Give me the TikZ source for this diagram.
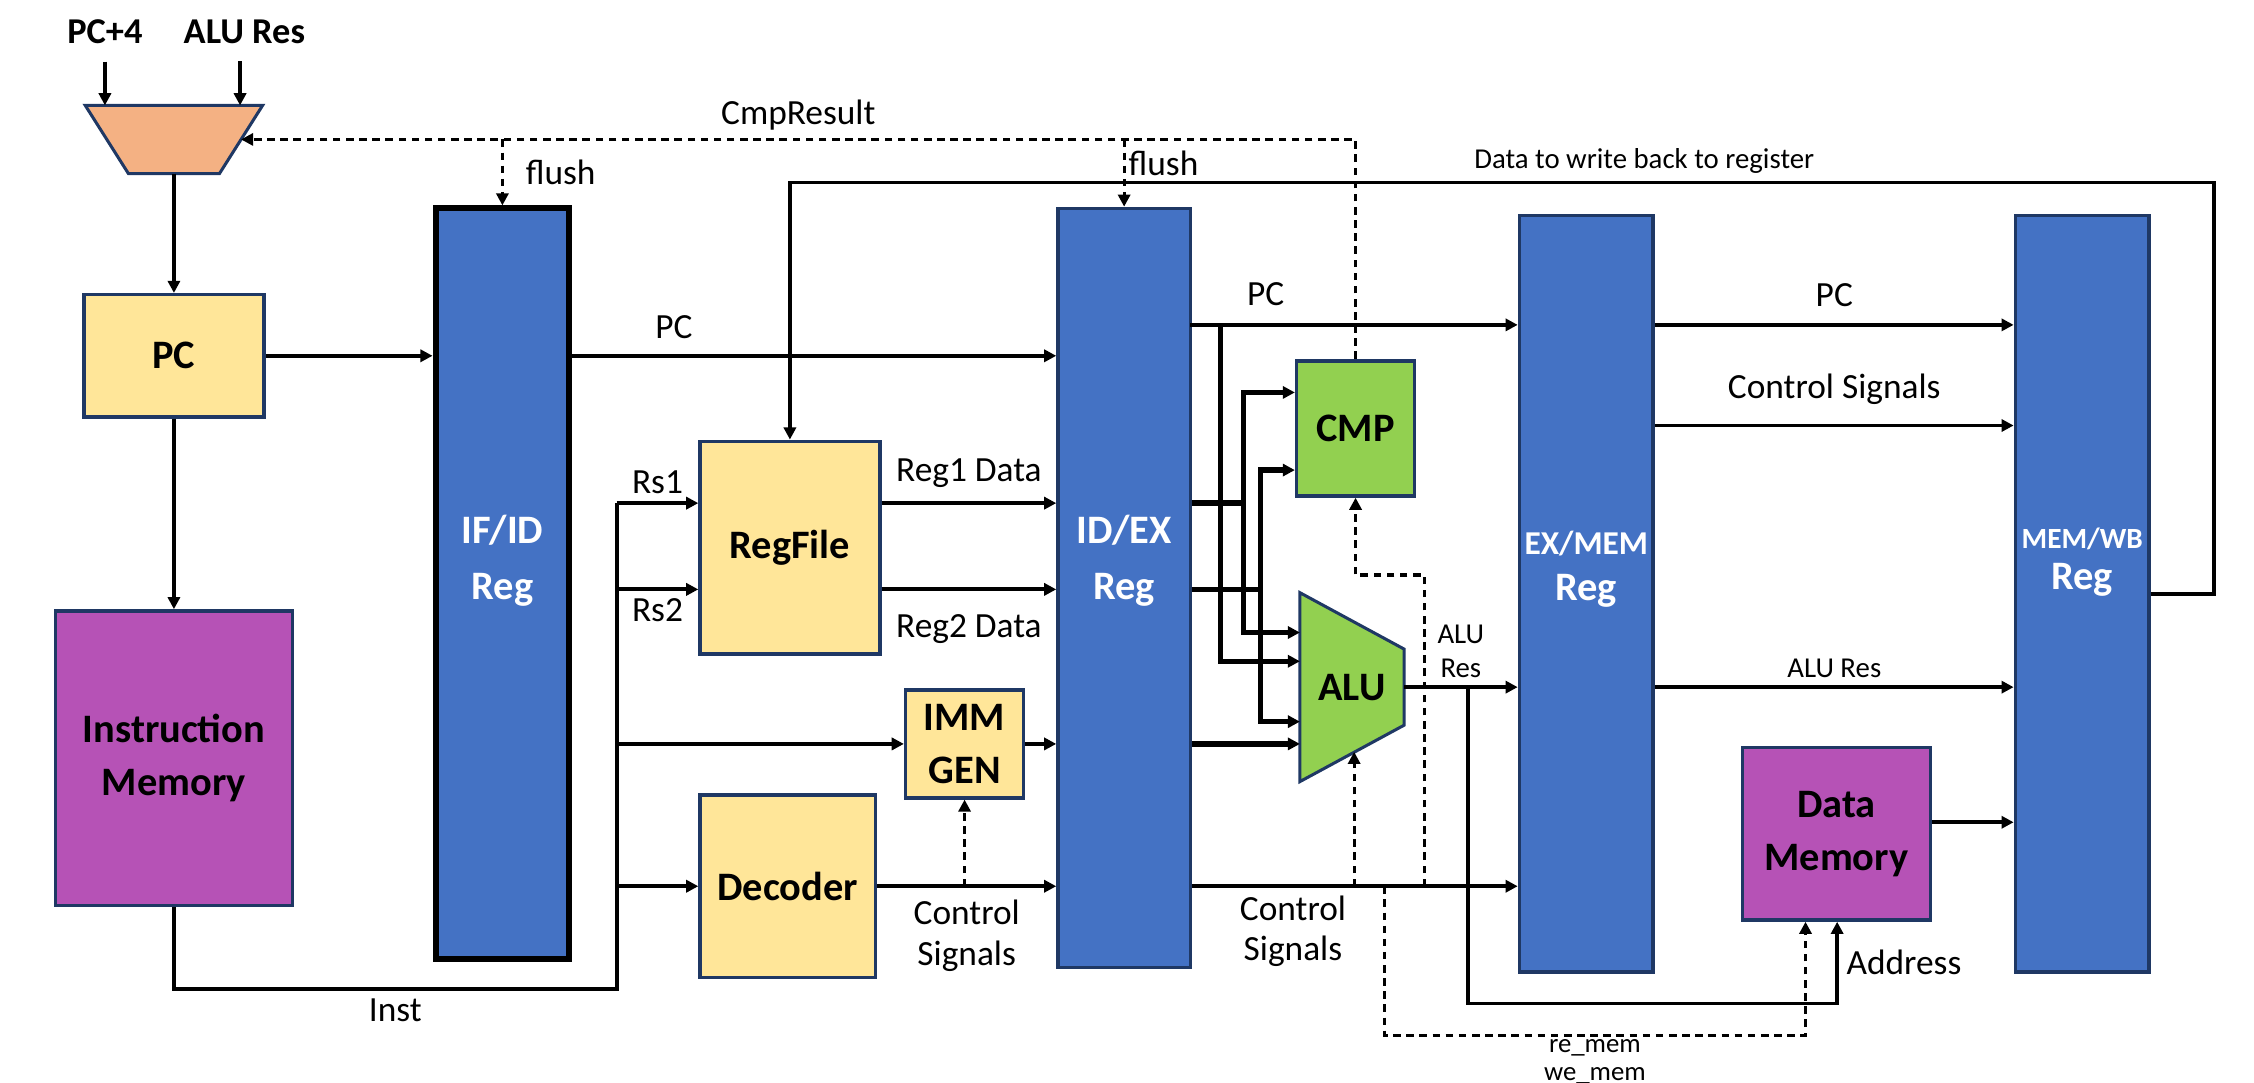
\documentclass[tikz,border=0pt]{standalone}
\usepackage{fontspec}
\setmainfont{Carlito}
\usepackage{xcolor}
\usepackage{tikz}
\usetikzlibrary{arrows.meta, calc, backgrounds}

\definecolor{regblue}{HTML}{4472C4}
\definecolor{edgenavy}{HTML}{1F3864}
\definecolor{unityellow}{HTML}{FFE699}
\definecolor{mempurple}{HTML}{B652B6}
\definecolor{cmpgreen}{HTML}{92D050}
\definecolor{muxorange}{HTML}{F4B183}

\begin{document}
\begin{tikzpicture}[>={Triangle[length=2.4pt, width=2.4pt]},
    wire/.style={line width=0.75pt},
    bus/.style={line width=1.05pt},
    ctrl/.style={line width=0.6pt, dash pattern=on 1.5pt off 1.1pt},
    blockbox/.style={draw=edgenavy, line width=0.7pt, fill=unityellow, inner sep=0pt, align=center, font=\fontsize{8}{10.5}\selectfont\bfseries},
    pipereg/.style={draw=edgenavy, line width=0.7pt, fill=regblue, minimum width=0.93cm, minimum height=5.26cm},
    regtext/.style={text=white, align=center, font=\fontsize{8}{11}\selectfont\bfseries},
    lbl/.style={font=\fontsize{7}{8}\selectfont, inner sep=1.5pt},
    smalllbl/.style={font=\fontsize{5.7}{6.8}\selectfont, inner sep=1.5pt}]
    \useasboundingbox (0,0) rectangle (15.68,-7.53);

    % blocks
    \node[blockbox, minimum width=1.25cm, minimum height=0.85cm] (pc) at (1.21,-2.475) {PC};
    \node[blockbox, fill=mempurple, minimum width=1.65cm, minimum height=2.05cm] (imem) at (1.21,-5.275) {Instruction\\Memory};
    \node[blockbox, minimum width=1.25cm, minimum height=1.48cm] (regfile) at (5.495,-3.81) {RegFile};
    \node[blockbox, minimum width=0.82cm, minimum height=0.75cm] (immgen) at (6.71,-5.175) {IMM\\GEN};
    \node[blockbox, minimum width=1.22cm, minimum height=1.27cm] (decoder) at (5.48,-6.165) {Decoder};
    \node[blockbox, fill=cmpgreen, minimum width=0.82cm, minimum height=0.94cm] (cmp) at (9.43,-2.98) {CMP};
    \node[blockbox, fill=mempurple, minimum width=1.31cm, minimum height=1.20cm] (dmem) at (12.775,-5.80) {Data\\Memory};
    \node[minimum width=1.22cm, minimum height=0.46cm, inner sep=0pt] (mux) at (1.21,-0.97) {};
    \node[minimum width=0.71cm, minimum height=1.30cm, inner sep=0pt, font=\fontsize{8}{10}\selectfont\bfseries] (alu) at (9.405,-4.78) {ALU};
    \begin{scope}[on background layer]
        \filldraw[fill=muxorange, draw=edgenavy, line width=0.6pt] (mux.north west) -- (mux.north east) -- ($(mux.south east)+(-0.30,0)$) -- ($(mux.south west)+(0.30,0)$) -- cycle;
        \filldraw[fill=cmpgreen, draw=edgenavy, line width=0.6pt] (alu.north west) -- ($(alu.east)+(0,0.265)$) -- ($(alu.east)+(0,-0.265)$) -- (alu.south west) -- cycle;
    \end{scope}

    % pipeline registers
    \node[pipereg, draw=black, line width=1.2pt, minimum height=5.22cm] (ifid) at (3.495,-4.06) {};
    \node[pipereg, minimum width=0.92cm, minimum height=5.28cm] (idex) at (7.82,-4.09) {};
    \node[pipereg] (exmem) at (11.035,-4.13) {};
    \node[pipereg] (memwb) at (14.485,-4.13) {};
    \node[regtext] (ifidtxt) at ([yshift=1.6mm]ifid.center) {IF/ID\\Reg};
    \node[regtext] (idextxt) at ([yshift=1.9mm]idex.center) {ID/EX\\Reg};
    \node[regtext, font=\fontsize{8}{9.2}\selectfont\bfseries] (exmemtxt) at ([yshift=1.7mm]exmem.center) {{\fontsize{6.6}{8}\selectfont EX/MEM}\\Reg};
    \node[regtext, font=\fontsize{8}{8}\selectfont\bfseries] (memwbtxt) at ([yshift=2.2mm]memwb.center) {{\fontsize{5.8}{7}\selectfont MEM/WB}\\Reg};

    % inputs of the next-pc mux
    \node[font=\fontsize{7.2}{8}\selectfont\bfseries] (pcfour) at (0.73,-0.22) {PC+4};
    \node[font=\fontsize{7.2}{8}\selectfont\bfseries] (alures) at (1.70,-0.22) {ALU Res};
    \draw[wire,->] (pcfour.south) -- (pcfour.south |- mux.north);
    \draw[wire,->] ([xshift=-0.3mm]alures.south) -- ([xshift=-0.3mm]alures.south |- mux.north);

    % fetch
    \draw[wire,->] (mux.south) -- (pc.north);
    \draw[wire,->] (pc.south) -- (imem.north);
    \draw[wire,->] (pc.east) -- (pc.east -| ifid.west);
    \draw[wire,->] (pc.east -| ifid.east) -- (pc.east -| idex.west) node[lbl, above, pos=0.21, yshift=0.5mm] {PC};

    % instruction bus
    \coordinate (instbot) at (4.29,-6.88);
    \coordinate (rs1pt) at (4.29,-3.50);
    \coordinate (rs2pt) at (4.29,-4.10);
    \coordinate (immpt) at (4.29,-5.175);
    \coordinate (decpt) at (4.29,-6.165);
    \draw[wire] (imem.south) |- (instbot) node[lbl, below, pos=0.75] {Inst} -- (rs1pt);
    \draw[wire,->] (rs1pt) -- (rs1pt -| regfile.west) node[lbl, above, midway] {Rs1};
    \draw[wire,->] (rs2pt) -- (rs2pt -| regfile.west) node[lbl, below, midway] {Rs2};
    \draw[wire,->] (immpt) -- (immgen.west);
    \draw[wire,->] (decpt) -- (decoder.west);

    % decode
    \draw[wire,->] (rs1pt -| regfile.east) -- (rs1pt -| idex.west) node[lbl, above, midway, yshift=0.4mm] {Reg1 Data};
    \draw[wire,->] (rs2pt -| regfile.east) -- (rs2pt -| idex.west) node[lbl, below, midway, yshift=-1.1mm] {Reg2 Data};
    \draw[wire,->] (immgen.east) -- (immgen.east -| idex.west);
    \draw[wire,->] (decoder.east) -- (decoder.east -| idex.west) node[lbl, below, midway, align=center, yshift=-0.3mm] {Control\\Signals};
    \draw[ctrl,->] (immgen.south |- decoder.east) -- (immgen.south);

    % execute
    \coordinate (pcout) at (8.28,-2.26);
    \coordinate (pcsplit) at (8.49,-2.26);
    \coordinate (r1a) at (8.65,-2.73);
    \coordinate (r1b) at (8.65,-4.40);
    \coordinate (r2a) at (8.77,-3.27);
    \coordinate (r2b) at (8.77,-5.02);
    \draw[wire,->] (pcout) -- (pcout -| exmem.west) node[lbl, above, pos=0.23, yshift=0.7mm] {PC};
    \draw[bus,->] (pcsplit) |- ([yshift=1.8mm]alu.west);
    \draw[bus] (rs1pt -| idex.east) -- (rs1pt -| r1a);
    \draw[bus] (rs2pt -| idex.east) -- (rs2pt -| r2a);
    \draw[bus,<->] (r1a -| cmp.west) -- (r1a) -- (r1b) -- (r1b -| alu.west);
    \draw[bus,<->] (r2a -| cmp.west) -- (r2a) -- (r2b) -- (r2b -| alu.west);
    \draw[bus,->] (immgen.east -| idex.east) -- (immgen.east -| alu.west);
    \draw[wire,->] (alu.east) -- (alu.east -| exmem.west) node[smalllbl, above, midway, align=center] {ALU\\Res};
    \draw[wire,->] (decoder.east -| idex.east) -- (decoder.east -| exmem.west) node[lbl, below, pos=0.31, align=center] {Control\\Signals};
    \coordinate (aluctl) at (9.42,-5.23);
    \coordinate (cmpctl) at (9.91,-4.00);
    \draw[ctrl,->] (aluctl |- decoder.east) -- (aluctl);
    \draw[ctrl,->] (cmpctl |- decoder.east) -- (cmpctl) -| (cmp.south);

    % memory
    \coordinate (addrsplit) at (10.21,-4.78);
    \coordinate (addrbot) at (12.78,-6.98);
    \coordinate (memctl) at (9.63,-7.20);
    \coordinate (memctlend) at (12.56,-7.20);
    \coordinate (ctlwb) at (11.50,-2.96);
    \coordinate (dmout) at ($(dmem.east)+(0,0.08)$);
    \draw[wire,->] (addrsplit) |- (addrbot) -- (addrbot |- dmem.south) node[lbl, right, midway] {Address};
    \draw[ctrl,->] (memctl |- decoder.east) -- (memctl) -- (memctlend) node[below, midway, align=center, inner sep=0.5pt, font=\fontsize{5.3}{5.6}\selectfont] {re\_mem\\we\_mem} -- (memctlend |- dmem.south);
    \draw[wire,->] (pcout -| exmem.east) -- (pcout -| memwb.west) node[lbl, above, midway, yshift=0.6mm] {PC};
    \draw[wire,->] (ctlwb -| exmem.east) -- (ctlwb -| memwb.west) node[lbl, above, midway, yshift=0.8mm] {Control Signals};
    \draw[wire,->] (alu.east -| exmem.east) -- (alu.east -| memwb.west) node[smalllbl, above, midway] {ALU Res};
    \draw[wire,->] (dmout) -- (dmout -| memwb.west);

    % write back
    \coordinate (wbturn) at (15.40,-1.27);
    \draw[wire,->] (memwb.east) -| (wbturn) -- (wbturn -| regfile.north) node[smalllbl, above, pos=0.4] {Data to write back to register} -- (regfile.north);

    % branch compare and flush
    \coordinate (cmpturn) at (9.43,-0.97);
    \draw[ctrl,->] (cmp.north) -- (cmpturn) -- ([xshift=-1.5mm]mux.east) node[lbl, above, midway] {CmpResult};
    \draw[ctrl,->] (ifid.north |- cmpturn) -- (ifid.north) node[lbl, right, midway, xshift=1mm] {flush};
    \draw[ctrl,->] (idex.north |- cmpturn) -- (idex.north) node[lbl, right, pos=0.35, inner sep=0.6pt] {flush};
\end{tikzpicture}
\end{document}
